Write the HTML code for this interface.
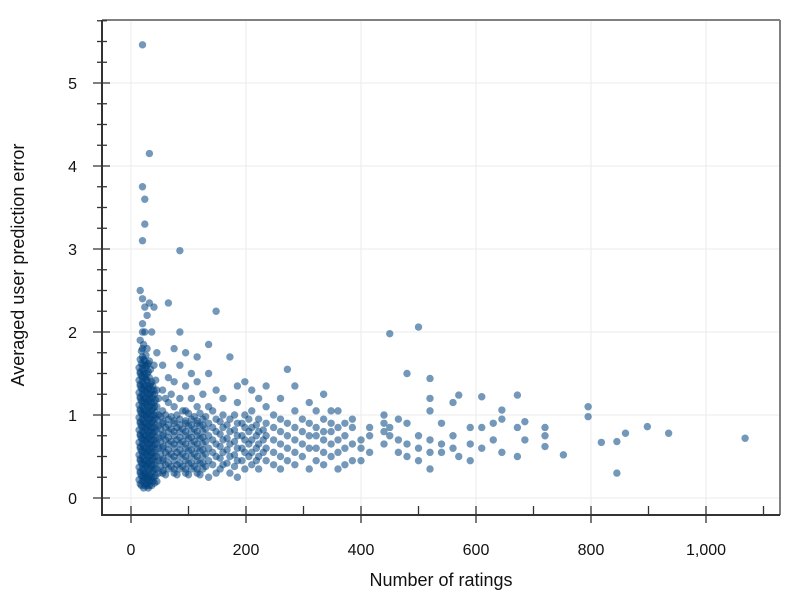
<!DOCTYPE html>
<html><head><meta charset="utf-8"><style>
body{margin:0;background:#fff}
svg{display:block;font-family:"Liberation Sans",Arial,sans-serif}
</style></head><body>
<svg id="chart" width="800" height="600" viewBox="0 0 800 600"></svg>
<script>
const ratings=[16,16,16,16,16,16,16,16,16,16,16,
20,20,20,20,20,20,20,20,20,20,20,20,20,20,20,20,
24,24,24,24,24,24,24,24,24,24,24,24,24,24,
28,28,28,28,28,28,28,28,28,28,28,28,
32,32,32,32,32,32,32,32,32,32,32,32,
36,36,36,36,36,36,36,36,36,36,
40,40,40,40,40,40,40,40,40,40,
45,45,45,45,45,45,45,45,45,
55,55,55,55,55,55,55,55,
65,65,65,65,65,65,65,65,
75,75,75,75,75,75,75,75,
85,85,85,85,85,85,85,85,85,
95,95,95,95,95,95,95,95,
105,105,105,105,105,105,105,
115,115,115,115,115,115,115,115,
125,125,125,125,125,125,
135,135,135,135,135,135,135,135,
148,148,148,148,148,148,148,
160,160,160,160,160,160,
172,172,172,172,172,172,
185,185,185,185,185,185,185,
198,198,198,198,198,198,
210,210,210,210,210,210,
222,222,222,222,222,222,
235,235,235,235,235,235,
248,248,248,248,248,
260,260,260,260,260,260,
272,272,272,272,272,
285,285,285,285,285,285,
298,298,298,298,
310,310,310,310,310,
322,322,322,322,322,
335,335,335,335,335,335,
348,348,348,348,348,
360,360,360,360,360,
372,372,372,372,
385,385,385,385,
400,400,400,
415,415,415,
440,440,440,440,
450,450,450,
465,465,465,
480,480,480,480,
500,500,500,500,
520,520,520,520,520,520,
540,540,540,
560,560,560,
570,570,
590,590,590,
610,610,610,
630,630,
645,645,645,
672,672,672,
685,685,
720,720,720,
752,795,795,818,845,845,860,898,935,1068];
const errors=[.3,.45,.6,.75,.9,1.05,1.2,1.35,1.5,1.9,2.5,
.2,.35,.5,.65,.8,.95,1.1,1.25,1.4,1.55,1.7,2.1,2.4,3.1,3.75,5.46,
.25,.4,.55,.7,.85,1.0,1.15,1.3,1.45,1.6,2.0,2.3,3.6,3.3,
.15,.3,.45,.6,.75,.9,1.05,1.2,1.35,1.5,1.8,2.2,
.2,.35,.5,.65,.8,.95,1.1,1.25,1.45,1.65,4.15,2.35,
.15,.3,.45,.6,.75,.9,1.05,1.2,1.4,2.0,
.25,.4,.55,.7,.85,1.0,1.15,1.3,1.6,2.3,
.2,.35,.5,.65,.8,.95,1.1,1.3,1.75,
.3,.45,.6,.75,.9,1.05,1.3,1.6,
.35,.5,.65,.8,.95,1.15,1.45,2.35,
.3,.45,.6,.75,.9,1.1,1.4,1.8,
.35,.5,.65,.8,.95,1.2,1.6,2.98,2.0,
.3,.45,.6,.75,.9,1.05,1.35,1.75,
.35,.5,.65,.8,.95,1.2,1.5,
.3,.45,.6,.75,.9,1.1,1.4,1.7,
.35,.5,.65,.8,.95,1.25,
.25,.45,.6,.75,.9,1.1,1.5,1.85,
.3,.5,.65,.8,.95,1.3,2.25,
.4,.55,.7,.85,1.0,1.2,
.3,.5,.65,.8,.95,1.7,
.25,.45,.6,.75,.9,1.15,1.35,
.35,.55,.7,.85,1.0,1.4,
.4,.55,.7,.85,1.05,1.3,
.35,.5,.65,.8,.95,1.2,
.45,.6,.75,.9,1.1,1.35,
.4,.55,.7,.85,1.0,
.35,.5,.65,.8,.95,1.2,
.45,.6,.75,.9,1.55,
.4,.55,.7,.85,1.05,1.35,
.5,.65,.8,.95,
.35,.6,.75,.9,1.15,
.45,.6,.75,.85,1.05,
.4,.55,.7,.8,.95,1.25,
.5,.65,.8,.9,1.05,
.35,.55,.7,.85,1.05,
.4,.6,.75,.9,
.45,.65,.85,.95,
.45,.6,.7,
.55,.75,.85,
.65,.8,.9,1.0,
1.98,.85,.75,
.55,.7,.95,
.5,.65,1.5,.9,
2.06,.6,.75,.45,
.55,1.44,.7,1.2,1.05,.35,
.65,.9,.55,
.6,1.15,.75,
1.24,.5,
.85,.45,.65,
1.22,.85,.6,
.9,.7,
1.06,.55,.95,
1.24,.5,.85,
.7,.92,
.85,.62,.75,
.52,1.1,.98,.67,.3,.68,.78,.86,.78,.72];
const ratingsDense=[
14,14,14,14,14,14,14,14,14,14,
18,18,18,18,18,18,18,18,18,18,18,18,
22,22,22,22,22,22,22,22,22,22,22,22,22,
26,26,26,26,26,26,26,26,26,26,26,26,
30,30,30,30,30,30,30,30,30,30,30,
34,34,34,34,34,34,34,34,34,34,
38,38,38,38,38,38,38,38,38,
43,43,43,43,43,43,43,43,
48,48,48,48,48,48,48,
52,52,52,52,52,
60,60,60,60,60,60,60,
70,70,70,70,70,70,
80,80,80,80,80,80,
90,90,90,90,90,
100,100,100,100,100,100,
110,110,110,110,110,
120,120,120,120,120,120,
130,130,130,130,130,
142,142,142,142,142,
155,155,155,155,155,
167,167,167,167,
180,180,180,180,180,
193,193,193,193,
205,205,205,205,
218,218,218,218,
230,230,230];
const errorsDense=[
.22,.37,.52,.67,.82,.97,1.12,1.27,1.42,1.57,
.15,.27,.42,.57,.72,.87,1.02,1.17,1.32,1.47,1.62,1.77,
.12,.22,.32,.47,.62,.77,.92,1.07,1.22,1.37,1.52,1.67,1.85,
.18,.28,.38,.53,.68,.83,.98,1.13,1.28,1.43,1.58,1.72,
.12,.24,.42,.57,.72,.87,1.02,1.17,1.32,1.52,1.62,
.22,.37,.52,.67,.82,.97,1.12,1.27,1.37,1.55,
.2,.33,.48,.63,.78,.93,1.08,1.23,1.35,
.27,.43,.58,.73,.88,1.03,1.18,1.42,
.3,.45,.6,.72,.87,1.0,1.2,
.38,.53,.68,.83,.98,
.28,.4,.55,.7,.85,1.0,1.2,
.38,.53,.68,.83,.98,1.25,
.28,.4,.55,.7,.85,1.0,
.38,.53,.68,.83,1.05,
.28,.42,.57,.72,.87,1.02,
.38,.53,.68,.83,.98,
.28,.42,.57,.72,.87,1.02,
.38,.53,.68,.83,.98,
.4,.55,.7,.85,1.05,
.35,.48,.62,.77,.92,
.42,.58,.72,.88,
.38,.52,.68,.82,1.0,
.45,.6,.75,.9,
.5,.65,.8,.95,
.45,.6,.75,.88,
.55,.7,.82];
const ratingsCore=[
16,16,16,16,16,16,16,16,16,16,16,
20,20,20,20,20,20,20,20,20,20,20,20,
24,24,24,24,24,24,24,24,24,24,24,
28,28,28,28,28,28,28,28,28,28,
32,32,32,32,32,32,32,32,32,
36,36,36,36,36,36,36,36,
41,41,41,41,41,41,41,41,
56,56,56,56,56,
65,65,65,65,
75,75,75,75,75,
85,85,85,85,
95,95,95,95,95,
105,105,105,105,
115,115,115,115,115,
125,125,125,125];
const errorsCore=[
.17,.32,.47,.62,.77,.92,1.07,1.22,1.37,1.52,1.67,
.25,.4,.55,.7,.85,1.0,1.15,1.3,1.45,1.6,1.8,2.0,
.15,.3,.45,.6,.75,.9,1.05,1.2,1.35,1.5,1.65,
.22,.37,.52,.67,.82,.97,1.12,1.27,1.42,1.6,
.15,.28,.45,.6,.75,.9,1.05,1.2,1.35,
.25,.4,.55,.7,.85,1.0,1.15,1.3,
.18,.35,.5,.65,.8,.95,1.1,1.25,
.33,.47,.62,.77,.92,
.42,.58,.73,.88,
.35,.5,.65,.8,.93,
.42,.58,.73,.88,
.35,.5,.65,.8,.93,
.42,.58,.73,.88,
.35,.5,.65,.8,.93,
.42,.58,.73,.88];
const xTicks=[0,200,400,600,800,1000];
const xTickLabels=["0","200","400","600","800","1,000"];
const yTicks=[0,1,2,3,4,5];
const yTickLabels=["0","1","2","3","4","5"];

const NS="http://www.w3.org/2000/svg";
const svg=document.getElementById('chart');
const X=v=>131+v*0.575;
const Y=v=>498-v*83;
function mk(t,a,p){const e=document.createElementNS(NS,t);for(const k in a)e.setAttribute(k,a[k]);(p||svg).appendChild(e);return e;}
const L=102,R=780,T=20,B=515;
const grid=mk('g',{});


xTicks.forEach(v=>mk('line',{x1:X(v),x2:X(v),y1:T,y2:B,stroke:'#ebebeb','stroke-width':1},grid));
yTicks.forEach(v=>mk('line',{x1:L,x2:R,y1:Y(v),y2:Y(v),stroke:'#ebebeb','stroke-width':1},grid));
const fr=mk('g',{});


mk('line',{x1:L,x2:R,y1:T,y2:T,stroke:'#808080','stroke-width':2},fr);
mk('line',{x1:R,x2:R,y1:T,y2:B,stroke:'#808080','stroke-width':2},fr);
const pts=mk('g',{});


function drawPoints(xs,ys){
  xs.forEach((r,i)=>{
    const c=mk('circle',{cx:X(r),cy:Y(ys[i]),r:3.7,fill:'#024480','fill-opacity':0.55},pts);
    
    
  });
}
drawPoints(ratingsDense,errorsDense);
drawPoints(ratingsCore,errorsCore);
drawPoints(ratings,errors);
const ax=mk('g',{});


mk('line',{x1:L,x2:L,y1:T,y2:B+1,stroke:'#333','stroke-width':2},ax);
mk('line',{x1:L-1,x2:R,y1:B,y2:B,stroke:'#333','stroke-width':2},ax);
for(let v=0;v<=1100;v+=100){
  const maj=v%200===0;
  mk('line',{x1:X(v),x2:X(v),y1:506,y2:maj?523:515,stroke:'#333','stroke-width':1.3},ax);
}
for(let v=0;v<=5.75;v+=0.25){
  const maj=Math.abs(v-Math.round(v))<1e-6;
  mk('line',{x1:maj?93:97,x2:maj?110:107,y1:Y(v),y2:Y(v),stroke:'#333','stroke-width':1.3},ax);
}
xTicks.forEach((v,i)=>{const t=mk('text',{x:X(v),y:555,'text-anchor':'middle','font-size':16,fill:'#111'},ax);t.textContent=xTickLabels[i];

});
yTicks.forEach((v,i)=>{const t=mk('text',{x:77,y:Y(v)+6,'text-anchor':'end','font-size':16,fill:'#111'},ax);t.textContent=yTickLabels[i];

});
const xt=mk('text',{x:441,y:586,'text-anchor':'middle','font-size':18,fill:'#111'});
xt.textContent='Number of ratings';


const yt=mk('text',{x:24,y:265,'text-anchor':'middle','font-size':18,fill:'#111',transform:'rotate(-90 24 265)'});
yt.textContent='Averaged user prediction error';


</script>
</body></html>
